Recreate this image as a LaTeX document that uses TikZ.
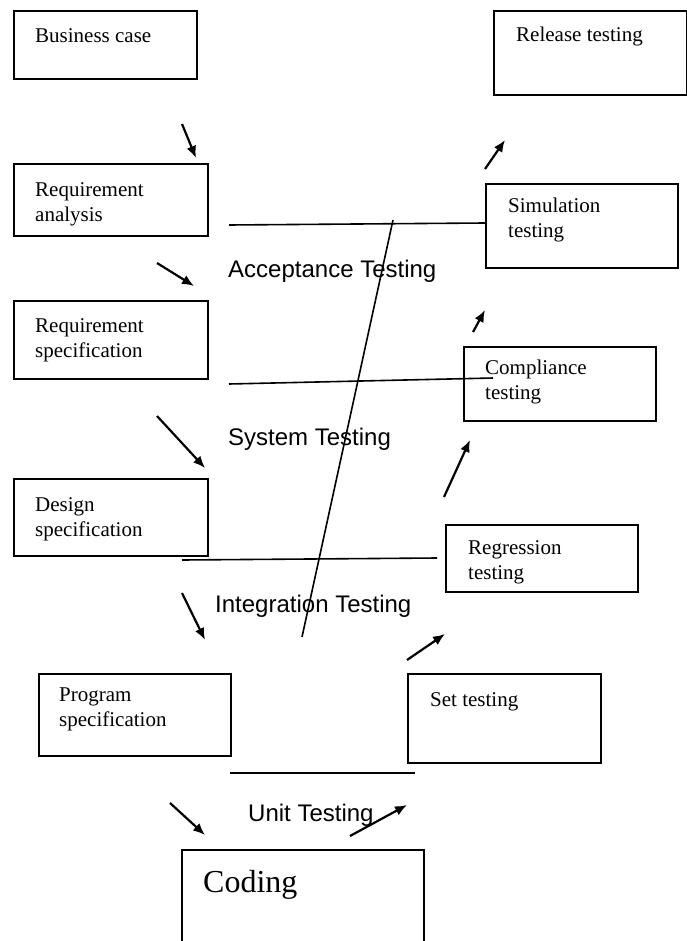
\documentclass[tikz,border=0pt]{standalone}
\usepackage{fontspec}
\setmainfont{Liberation Serif}
\newfontfamily\labelsans{Liberation Sans}
\usetikzlibrary{arrows.meta}
\begin{document}
\begin{tikzpicture}[x=1pt,y=-1pt,
  stage/.style={draw,line width=1.7pt,anchor=north west,inner sep=0pt},
  boxtext/.style={anchor=north west,inner sep=0pt,align=left,font=\fontsize{21}{25}\selectfont},
  phase/.style={anchor=base west,inner sep=0pt,font=\labelsans\fontsize{24}{28}\selectfont},
  flow/.style={line width=2.2pt,-{Latex[length=12pt,width=10pt]}},
  link/.style={line width=1.6pt}]
\useasboundingbox (0,0) rectangle (687,941);
\clip (0,0) rectangle (687,941);

% development stages (left branch)
\node[stage,minimum width=183pt,minimum height=68pt] (bc) at (13,10) {};
\node[boxtext] (bc-t) at (35,28) {Business case};
\node[stage,minimum width=194pt,minimum height=72pt] (ra) at (13,163) {};
\node[boxtext] (ra-t) at (35,182) {Requirement\\analysis};
\node[stage,minimum width=194pt,minimum height=78pt] (rs) at (13,300) {};
\node[boxtext] (rs-t) at (35,318) {Requirement\\specification};
\node[stage,minimum width=194pt,minimum height=77pt] (ds) at (13,478) {};
\node[boxtext] (ds-t) at (35,497) {Design\\specification};
\node[stage,minimum width=192pt,minimum height=82pt] (ps) at (38,673) {};
\node[boxtext] (ps-t) at (59,688) {Program\\specification};
\node[stage,minimum width=242pt,minimum height=120pt] (cod) at (181,849) {};
\node[anchor=north west,inner sep=0pt,font=\fontsize{32}{36}\selectfont] (cod-t) at (203,870) {Coding};

% testing stages (right branch)
\node[stage,minimum width=193pt,minimum height=84pt] (rel) at (493,10) {};
\node[boxtext] (rel-t) at (516,27) {Release testing};
\node[stage,minimum width=192pt,minimum height=84pt] (sim) at (485,183) {};
\node[boxtext] (sim-t) at (508,198) {Simulation\\testing};
\node[stage,minimum width=192pt,minimum height=74pt] (com) at (463,346) {};
\node[boxtext] (com-t) at (485,360) {Compliance\\testing};
\node[stage,minimum width=192pt,minimum height=67pt] (reg) at (445,524) {};
\node[boxtext] (reg-t) at (468,540) {Regression\\testing};
\node[stage,minimum width=193pt,minimum height=89pt] (set) at (407,673) {};
\node[boxtext] (set-t) at (430,692) {Set testing};

% testing levels
\node[phase] (acc) at (228,277) {Acceptance Testing};
\node[phase] (sys) at (228,445) {System Testing};
\node[phase] (int) at (215,612) {Integration Testing};
\node[phase] (unit) at (248,821) {Unit Testing};

% arrow end points
\coordinate (d1a) at (182,124); \coordinate (d1b) at (196,158);
\coordinate (d2a) at (157,263); \coordinate (d2b) at (194,286);
\coordinate (d3a) at (157,416); \coordinate (d3b) at (205,468);
\coordinate (d4a) at (182,593); \coordinate (d4b) at (205,640);
\coordinate (d5a) at (170,803); \coordinate (d5b) at (205,835);
\coordinate (u1a) at (350,836); \coordinate (u1b) at (407,805);
\coordinate (u2a) at (407,660); \coordinate (u2b) at (445,634);
\coordinate (u3a) at (444,497); \coordinate (u3b) at (470,440);
\coordinate (u4a) at (473,332); \coordinate (u4b) at (485,310);
\coordinate (u5a) at (485,169); \coordinate (u5b) at (505,140);

\foreach \s in {d1,d2,d3,d4,d5,u1,u2,u3,u4,u5}
  \draw[flow] (\s a) -- (\s b);

% level separators
\coordinate (l1a) at (229,225); \coordinate (l1b) at (485,223);
\coordinate (l2a) at (229,384); \coordinate (l2b) at (493,378);
\coordinate (l3a) at (182,560); \coordinate (l3b) at (437,558);
\coordinate (l4a) at (230,773); \coordinate (l4b) at (415,773);
\coordinate (sla) at (393,220); \coordinate (slb) at (302,637);

\foreach \s in {l1,l2,l3,l4,sl}
  \draw[link] (\s a) -- (\s b);
\end{tikzpicture}
\end{document}
